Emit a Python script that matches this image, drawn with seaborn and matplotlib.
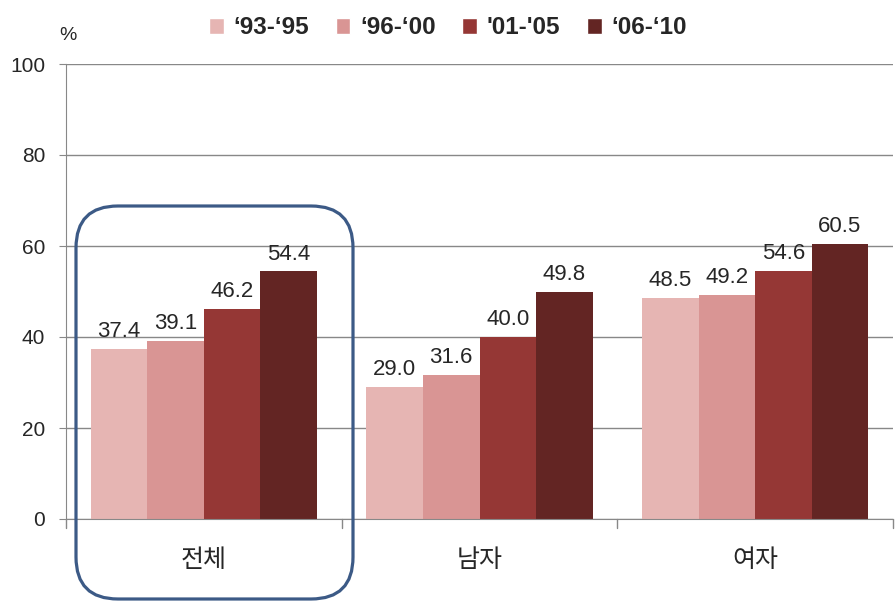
import seaborn as sns
import matplotlib.pyplot as plt
import pandas as pd
from matplotlib.patches import FancyBboxPatch, Patch
from matplotlib.transforms import IdentityTransform

groups = ['전체', '남자', '여자']
periods = ['\u201893-\u201895', '\u201896-\u201800', "'01-'05", '\u201806-\u201810']
v_93_95 = [37.4, 29.0, 48.5]
v_96_00 = [39.1, 31.6, 49.2]
v_01_05 = [46.2, 40.0, 54.6]
v_06_10 = [54.4, 49.8, 60.5]
colors = ['#E6B5B3', '#D99594', '#953735', '#632523']

rows = []
for p, vals in zip(periods, [v_93_95, v_96_00, v_01_05, v_06_10]):
    for g, v in zip(groups, vals):
        rows.append({'group': g, 'period': p, 'value': v})
df = pd.DataFrame(rows)

sns.set_style('white')
plt.rcParams['font.family'] = ['Liberation Sans', 'Noto Sans CJK KR', 'DejaVu Sans']

fig = plt.figure(figsize=(8.96, 6.07), dpi=100)
ax = fig.add_axes([66 / 896, 88 / 607, 827 / 896, 455 / 607])

sns.barplot(data=df, x='group', y='value', hue='period', palette=colors,
            width=0.82, gap=0, saturation=1, linewidth=0, ax=ax, legend=False)

for c in ax.containers:
    ax.bar_label(c, fmt='%.1f', padding=5, fontsize=16)

ax.set_ylim(0, 100)
ax.set_xlim(-0.5, 2.5)
ax.set_yticks(range(0, 101, 20))
ax.tick_params(axis='y', labelsize=15, length=5, color='#888888', pad=10, left=True)
ax.set_xticks([0, 1, 2])
ax.set_xticklabels(groups, fontsize=18, family=['Noto Sans CJK KR', 'DejaVu Sans'])
ax.tick_params(axis='x', length=0, pad=20)
for xb in [-0.5, 0.5, 1.5, 2.5]:
    ax.plot([xb, xb], [0, -2], color='#888888', lw=1, clip_on=False)
ax.yaxis.grid(True, color='#888888', lw=1)
ax.set_axisbelow(True)
for s in ['top', 'right']:
    ax.spines[s].set_visible(False)
for s in ['left', 'bottom']:
    ax.spines[s].set_color('#888888')
ax.set_xlabel('')
ax.set_ylabel('')
fig.text(68 / 896, 1 - 35 / 607, '%', ha='center', va='center', fontsize=14)

handles = [Patch(facecolor=c) for c in colors]
fig.legend(handles, periods, loc='center', bbox_to_anchor=(448 / 896, 1 - 28 / 607),
           ncol=4, frameon=False, handlelength=0.6, handleheight=0.6,
           columnspacing=1.1, handletextpad=0.4,
           prop={'size': 17.5, 'weight': 'bold'})

box = FancyBboxPatch((76, 8), 277, 393, boxstyle='round,pad=0,rounding_size=42',
                     transform=IdentityTransform(), fill=False,
                     edgecolor='#3C5A86', lw=2.3, clip_on=False)
fig.patches.append(box)

fig.savefig('out.png', dpi=100)
